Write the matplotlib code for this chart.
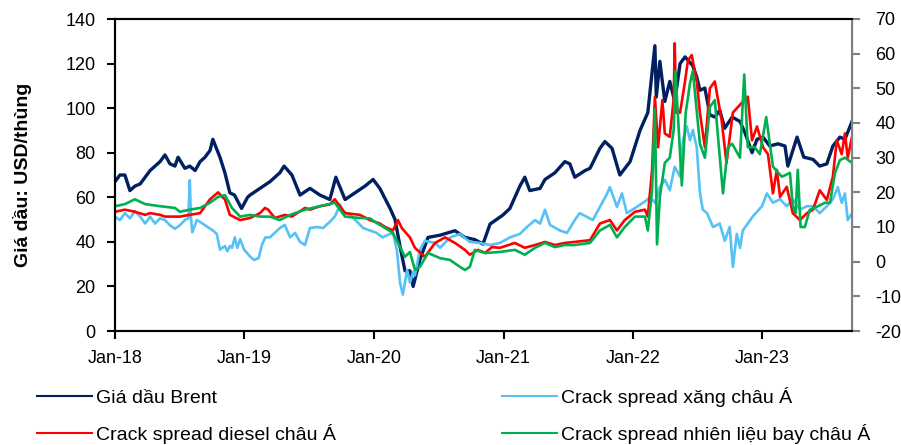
import pandas as pd
import matplotlib
matplotlib.use("Agg")
import matplotlib.pyplot as plt
import matplotlib.dates as mdates
from matplotlib.lines import Line2D

plt.rcParams['font.family'] = ['Liberation Sans', 'DejaVu Sans']
plt.rcParams['axes.unicode_minus'] = False

# Giá dầu Brent (USD/thùng) - trục trái
brent = [
    ("2018-01-01", 67), ("2018-01-15", 70), ("2018-01-29", 70), ("2018-02-12", 63),
    ("2018-02-26", 65), ("2018-03-13", 66), ("2018-03-27", 69), ("2018-04-10", 72),
    ("2018-04-24", 74), ("2018-05-08", 76), ("2018-05-22", 79), ("2018-06-05", 75),
    ("2018-06-19", 74), ("2018-06-28", 78), ("2018-07-17", 73), ("2018-07-31", 74),
    ("2018-08-15", 72), ("2018-08-29", 76), ("2018-09-12", 78), ("2018-09-26", 81),
    ("2018-10-04", 86), ("2018-10-24", 78), ("2018-11-07", 71), ("2018-11-21", 62),
    ("2018-12-04", 61), ("2018-12-24", 55), ("2019-01-10", 60), ("2019-01-17", 61),
    ("2019-02-14", 64), ("2019-03-14", 67), ("2019-04-11", 71), ("2019-04-23", 74),
    ("2019-05-15", 70), ("2019-06-07", 61), ("2019-07-05", 64), ("2019-08-02", 61),
    ("2019-08-30", 59), ("2019-09-16", 69), ("2019-10-12", 59), ("2019-11-09", 62),
    ("2019-12-07", 65), ("2019-12-30", 68), ("2020-01-18", 64), ("2020-02-16", 55),
    ("2020-03-01", 50), ("2020-03-15", 38), ("2020-03-29", 27), ("2020-04-12", 27),
    ("2020-04-21", 20), ("2020-05-10", 32), ("2020-06-02", 42), ("2020-07-06", 43),
    ("2020-08-17", 45), ("2020-09-14", 42), ("2020-10-12", 41), ("2020-11-04", 39),
    ("2020-11-24", 48), ("2020-12-30", 52), ("2021-01-19", 55), ("2021-02-16", 65),
    ("2021-03-02", 69), ("2021-03-16", 63), ("2021-04-14", 64), ("2021-04-28", 68),
    ("2021-05-26", 71), ("2021-06-23", 76), ("2021-07-07", 75), ("2021-07-21", 69),
    ("2021-08-19", 72), ("2021-09-02", 73), ("2021-09-30", 82), ("2021-10-14", 85),
    ("2021-11-03", 82), ("2021-11-25", 70), ("2021-12-24", 76), ("2022-01-21", 90),
    ("2022-02-12", 98), ("2022-03-04", 128), ("2022-03-08", 105), ("2022-03-18", 121),
    ("2022-04-01", 103), ("2022-04-15", 112), ("2022-04-29", 103), ("2022-05-14", 120),
    ("2022-05-28", 123), ("2022-06-19", 119), ("2022-06-30", 114), ("2022-07-09", 108),
    ("2022-07-23", 109), ("2022-08-06", 97), ("2022-08-20", 96), ("2022-09-03", 99),
    ("2022-09-17", 91), ("2022-10-08", 96), ("2022-10-30", 94), ("2022-11-13", 89),
    ("2022-12-03", 80), ("2022-12-17", 86), ("2023-01-03", 87), ("2023-01-22", 83),
    ("2023-02-14", 84), ("2023-03-06", 83), ("2023-03-14", 74), ("2023-04-09", 87),
    ("2023-04-28", 78), ("2023-05-24", 77), ("2023-06-12", 74), ("2023-07-02", 75),
    ("2023-07-19", 83), ("2023-08-08", 87), ("2023-08-22", 86), ("2023-09-11", 94),
]

# Crack spread xăng châu Á (USD/thùng) - trục phải
xang = [
    ("2018-01-01", 13), ("2018-01-15", 12), ("2018-01-29", 14), ("2018-02-12", 12.5),
    ("2018-02-26", 14.5), ("2018-03-13", 13), ("2018-03-27", 11), ("2018-04-10", 13),
    ("2018-04-24", 11), ("2018-05-08", 12.5), ("2018-05-22", 12), ("2018-06-05", 10.5),
    ("2018-06-19", 9.5), ("2018-07-03", 10.5), ("2018-07-17", 12), ("2018-07-27", 12.5),
    ("2018-07-31", 23.5), ("2018-08-03", 13), ("2018-08-07", 8.5), ("2018-08-20", 12),
    ("2018-09-05", 11), ("2018-09-19", 10), ("2018-10-04", 9), ("2018-10-15", 8),
    ("2018-10-24", 3.5), ("2018-11-07", 4.5), ("2018-11-14", 3), ("2018-11-21", 4.5),
    ("2018-11-27", 4), ("2018-12-05", 7), ("2018-12-12", 4), ("2018-12-20", 6.5),
    ("2018-12-31", 3.5), ("2019-01-17", 1.5), ("2019-01-28", 0.5), ("2019-02-10", 1),
    ("2019-02-20", 5), ("2019-03-01", 7), ("2019-03-14", 7), ("2019-04-11", 9.7),
    ("2019-04-25", 10.6), ("2019-05-10", 7), ("2019-05-24", 8.3), ("2019-06-07", 5.7),
    ("2019-06-21", 4.8), ("2019-07-05", 9.7), ("2019-07-25", 10), ("2019-08-11", 9.7),
    ("2019-08-30", 11.5), ("2019-09-13", 13), ("2019-09-28", 16.4), ("2019-10-06", 14.4),
    ("2019-10-26", 13.5), ("2019-11-15", 11.5), ("2019-12-02", 9.7), ("2019-12-21", 9),
    ("2020-01-09", 8.3), ("2020-01-26", 7), ("2020-02-09", 7.7), ("2020-02-24", 8.3),
    ("2020-03-06", 3.4), ("2020-03-15", -6), ("2020-03-23", -9.5), ("2020-04-04", -2.4),
    ("2020-04-12", -6), ("2020-04-21", -3), ("2020-04-26", -4), ("2020-05-10", 3.4),
    ("2020-05-24", 6), ("2020-06-22", 5.4), ("2020-07-06", 4), ("2020-08-03", 7),
    ("2020-08-31", 8), ("2020-09-28", 5.7), ("2020-10-26", 5.4), ("2020-11-24", 4.8),
    ("2020-12-22", 5.4), ("2021-01-19", 7), ("2021-02-16", 8), ("2021-03-08", 10),
    ("2021-03-31", 12), ("2021-04-14", 11), ("2021-04-28", 15), ("2021-05-12", 10.6),
    ("2021-06-09", 9), ("2021-06-29", 8.3), ("2021-07-21", 12), ("2021-08-04", 14),
    ("2021-09-10", 12), ("2021-10-20", 19.6), ("2021-10-28", 21.5), ("2021-11-17", 15.8),
    ("2021-12-01", 19.7), ("2021-12-15", 14), ("2022-01-12", 15.8), ("2022-02-10", 17.8),
    ("2022-02-18", 18.7), ("2022-03-04", 17), ("2022-03-18", 21.5), ("2022-04-01", 23.6),
    ("2022-04-15", 20.6), ("2022-04-29", 27.4), ("2022-05-14", 24.5), ("2022-05-22", 35),
    ("2022-06-02", 39), ("2022-06-11", 35), ("2022-06-19", 38), ("2022-06-30", 33),
    ("2022-07-09", 20), ("2022-07-17", 15), ("2022-07-29", 14), ("2022-08-15", 10),
    ("2022-09-03", 11), ("2022-09-17", 6), ("2022-10-01", 10), ("2022-10-10", -1.5),
    ("2022-10-21", 8), ("2022-10-30", 4), ("2022-11-07", 9), ("2022-11-21", 11),
    ("2022-12-05", 13), ("2022-12-31", 16), ("2023-01-14", 19.7), ("2023-01-31", 17),
    ("2023-02-20", 18), ("2023-03-11", 16), ("2023-03-28", 18), ("2023-04-17", 15),
    ("2023-05-07", 16), ("2023-05-24", 16), ("2023-06-12", 14), ("2023-07-02", 16),
    ("2023-07-19", 18), ("2023-08-02", 21.5), ("2023-08-13", 17), ("2023-08-22", 19.7),
    ("2023-08-30", 12), ("2023-09-11", 14),
]

# Crack spread diesel châu Á (USD/thùng) - trục phải
diesel = [
    ("2018-01-01", 14.4), ("2018-01-29", 15), ("2018-02-26", 14.4), ("2018-03-27", 13.5),
    ("2018-04-10", 14), ("2018-05-08", 13.5), ("2018-05-22", 13), ("2018-06-19", 13),
    ("2018-07-03", 13), ("2018-07-31", 13.5), ("2018-08-29", 14), ("2018-09-12", 16),
    ("2018-09-26", 18), ("2018-10-19", 20), ("2018-10-30", 18.7), ("2018-11-07", 18),
    ("2018-11-21", 13.5), ("2018-12-20", 12), ("2019-01-17", 12.6), ("2019-02-14", 14),
    ("2019-02-28", 15.5), ("2019-03-09", 15), ("2019-03-28", 12.6), ("2019-04-25", 13.5),
    ("2019-05-15", 13), ("2019-06-21", 15.5), ("2019-07-05", 15), ("2019-08-02", 16),
    ("2019-08-30", 16.5), ("2019-09-13", 18), ("2019-10-12", 14), ("2019-11-23", 13.5),
    ("2019-12-21", 12), ("2020-01-18", 11), ("2020-02-02", 10), ("2020-02-24", 9),
    ("2020-03-09", 12), ("2020-03-20", 9.7), ("2020-04-12", 7), ("2020-04-26", 4),
    ("2020-05-24", 1.4), ("2020-06-22", 5.4), ("2020-07-20", 7), ("2020-08-17", 5.4),
    ("2020-09-14", 3.4), ("2020-09-28", 2), ("2020-10-21", 3.4), ("2020-11-10", 2.5),
    ("2020-11-29", 4.2), ("2020-12-22", 4), ("2021-02-02", 5.4), ("2021-03-02", 4),
    ("2021-03-31", 4.8), ("2021-04-28", 5.7), ("2021-05-26", 4.8), ("2021-06-23", 5.4),
    ("2021-07-21", 5.7), ("2021-09-02", 6.2), ("2021-09-30", 11), ("2021-10-28", 12),
    ("2021-11-17", 9), ("2021-12-09", 12), ("2022-01-07", 14.4), ("2022-02-04", 15),
    ("2022-02-12", 13), ("2022-02-24", 26.5), ("2022-03-04", 47.5), ("2022-03-13", 33),
    ("2022-03-25", 46.6), ("2022-04-01", 37), ("2022-04-15", 36), ("2022-04-26", 47),
    ("2022-04-29", 63), ("2022-05-03", 43), ("2022-05-14", 43), ("2022-05-28", 52),
    ("2022-06-05", 58), ("2022-06-16", 59.6), ("2022-06-30", 52), ("2022-07-09", 43),
    ("2022-07-23", 33), ("2022-08-06", 50), ("2022-08-20", 52), ("2022-09-08", 41),
    ("2022-09-22", 28.5), ("2022-10-10", 43), ("2022-10-24", 44.6), ("2022-11-21", 47.6),
    ("2022-12-03", 35), ("2022-12-17", 39), ("2023-01-03", 33), ("2023-01-17", 31),
    ("2023-01-31", 19.7), ("2023-02-11", 26.5), ("2023-02-20", 18.7), ("2023-03-11", 21.6),
    ("2023-03-28", 14), ("2023-04-17", 12), ("2023-05-07", 14), ("2023-05-24", 15),
    ("2023-06-12", 20.6), ("2023-07-02", 17.8), ("2023-07-19", 24.5), ("2023-07-30", 35),
    ("2023-08-13", 31), ("2023-08-22", 37), ("2023-08-30", 30), ("2023-09-11", 36),
]

# Crack spread nhiên liệu bay châu Á (USD/thùng) - trục phải
jet = [
    ("2018-01-01", 16), ("2018-01-29", 16.6), ("2018-02-26", 18), ("2018-03-27", 16.6),
    ("2018-05-08", 16), ("2018-06-19", 15.5), ("2018-07-03", 14.4), ("2018-07-31", 15),
    ("2018-08-29", 15.5), ("2018-09-26", 17), ("2018-10-19", 18.7), ("2018-11-07", 19.2),
    ("2018-11-27", 15.5), ("2018-12-20", 13), ("2019-01-17", 13.5), ("2019-02-14", 13),
    ("2019-03-14", 13), ("2019-04-11", 12), ("2019-05-10", 13.5), ("2019-06-21", 15),
    ("2019-08-02", 16), ("2019-09-13", 17), ("2019-10-12", 13), ("2019-11-23", 12.6),
    ("2019-12-21", 12.5), ("2020-01-04", 11.5), ("2020-02-02", 9.7), ("2020-02-24", 8.3),
    ("2020-03-15", 4.2), ("2020-03-29", 1.4), ("2020-04-12", 2.8), ("2020-04-26", -2.4),
    ("2020-05-10", -1.5), ("2020-06-02", 2.5), ("2020-07-06", 1), ("2020-08-03", 0.5),
    ("2020-08-31", -1.5), ("2020-09-14", -2.4), ("2020-09-28", -1.5), ("2020-10-12", 3.4),
    ("2020-11-10", 2.5), ("2020-12-22", 2.8), ("2021-02-02", 3.4), ("2021-03-02", 2),
    ("2021-03-31", 4), ("2021-04-28", 5.4), ("2021-05-26", 4.2), ("2021-06-23", 4.8),
    ("2021-07-21", 4.8), ("2021-09-02", 5.4), ("2021-09-30", 9), ("2021-10-28", 10.6),
    ("2021-11-17", 7), ("2021-12-09", 10), ("2022-01-07", 13), ("2022-02-04", 13),
    ("2022-02-12", 9), ("2022-02-24", 20.6), ("2022-03-04", 44), ("2022-03-10", 5),
    ("2022-03-18", 18.7), ("2022-04-01", 28.5), ("2022-04-15", 30), ("2022-04-26", 38),
    ("2022-05-01", 55), ("2022-05-19", 22), ("2022-05-30", 43), ("2022-06-11", 51.5),
    ("2022-06-19", 55), ("2022-07-09", 34), ("2022-07-23", 30), ("2022-08-06", 44.6),
    ("2022-08-20", 46.6), ("2022-09-12", 19.7), ("2022-09-26", 33), ("2022-10-08", 34),
    ("2022-10-30", 30), ("2022-11-11", 54), ("2022-11-21", 33), ("2022-12-11", 33),
    ("2022-12-25", 31), ("2023-01-12", 41.7), ("2023-01-31", 27.4), ("2023-02-25", 24.5),
    ("2023-03-20", 25.6), ("2023-03-28", 16), ("2023-04-05", 14), ("2023-04-11", 26.5),
    ("2023-04-19", 10), ("2023-05-01", 10), ("2023-05-15", 15), ("2023-06-07", 16),
    ("2023-06-27", 17), ("2023-07-11", 17), ("2023-07-25", 25.6), ("2023-08-08", 29.3),
    ("2023-08-22", 30), ("2023-09-11", 28.5),
]

nhan = ["Giá dầu Brent", "Crack spread xăng châu Á",
        "Crack spread diesel châu Á", "Crack spread nhiên liệu bay châu Á"]
mau = ["#002060", "#55C1F5", "#FF0000", "#00B050"]


def to_df(rows):
    df = pd.DataFrame(rows, columns=["date", "value"])
    df["date"] = pd.to_datetime(df["date"])
    return df


fig = plt.figure(figsize=(9.01, 4.45), dpi=100)
ax = fig.add_axes([115 / 901, 114 / 445, 737 / 901, 312 / 445])
ax2 = ax.twinx()

d = to_df(brent)
ax.plot(d["date"], d["value"], color=mau[0], lw=2.4)
for rows, c in zip([xang, diesel, jet], mau[1:]):
    d = to_df(rows)
    ax2.plot(d["date"], d["value"], color=c, lw=1.9)

ax.set_xlim(pd.Timestamp("2018-01-01"), pd.Timestamp("2023-09-11"))
ax.set_ylim(0, 140)
ax.set_yticks(range(0, 141, 20))
ax2.set_ylim(-20, 70)
ax2.set_yticks(range(-20, 71, 10))

ax.xaxis.set_major_locator(mdates.YearLocator())
ax.xaxis.set_major_formatter(mdates.DateFormatter("%b-%y"))

ax.tick_params(axis="both", direction="out", length=6, width=1.5, labelsize=13, pad=8)
ax2.tick_params(axis="y", direction="out", length=6, width=1.5, labelsize=13, pad=11,
                color="#808080")
for s in ["left", "top", "bottom"]:
    ax.spines[s].set_linewidth(1.5)
    ax2.spines[s].set_linewidth(1.5)
ax2.spines["right"].set_color("#808080")
ax2.spines["right"].set_linewidth(1.5)

ax.set_ylabel("Giá dầu: USD/thùng", fontsize=14, fontweight="bold")
ax.yaxis.set_label_coords(-0.113, 0.5)

handles = [Line2D([], [], color=c, lw=1.5) for c in mau]
order = [0, 2, 1, 3]
fig.legend([handles[i] for i in order], [nhan[i] for i in order], ncol=2,
           loc="upper left", bbox_to_anchor=(37 / 901, 1 - 387 / 445),
           frameon=False, fontsize=14, handlelength=2.85, handletextpad=0.2,
           labelspacing=0.85, columnspacing=8.5, borderaxespad=0, borderpad=0)

fig.savefig("out.png", dpi=100)
